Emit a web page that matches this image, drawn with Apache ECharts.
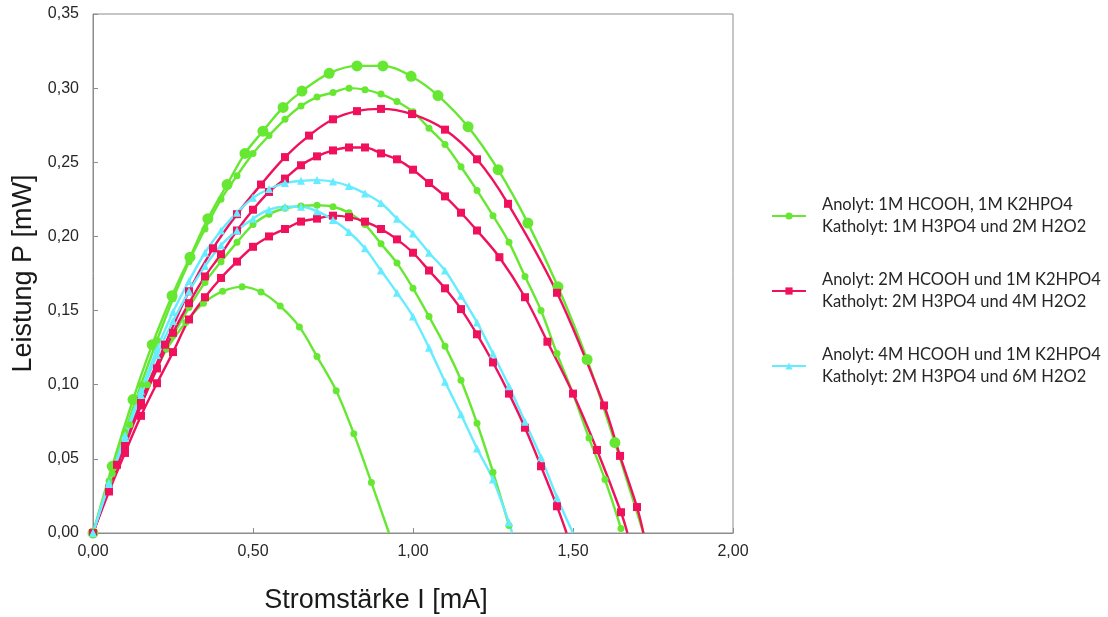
<!DOCTYPE html>
<html>
<head>
<meta charset="utf-8">
<script src="https://cdn.jsdelivr.net/npm/echarts@6/dist/echarts.min.js"></script>
<style>
  html, body { margin: 0; background: #fff; }
  #chart { width: 1108px; height: 617px; }
</style>
</head>
<body>
<div id="chart"></div>
<script>
// Stromstärke I [mA] und Leistung P [mW]
const I_g1 = [0, 0.06, 0.125, 0.185, 0.247, 0.303, 0.359, 0.419, 0.475, 0.531, 0.594, 0.653, 0.738, 0.825, 0.906, 0.994, 1.078, 1.172, 1.266, 1.359, 1.453, 1.544, 1.631, 1.72];
const P_g1 = [0, 0.045, 0.090, 0.127, 0.160, 0.186, 0.212, 0.235, 0.256, 0.271, 0.287, 0.298, 0.310, 0.315, 0.315, 0.308, 0.295, 0.274, 0.245, 0.209, 0.166, 0.117, 0.061, 0];

const I_g2 = [0, 0.05, 0.10, 0.15, 0.20, 0.25, 0.30, 0.35, 0.40, 0.45, 0.50, 0.55, 0.60, 0.65, 0.70, 0.75, 0.80, 0.85, 0.90, 0.95, 1.00, 1.05, 1.10, 1.15, 1.20, 1.25, 1.30, 1.35, 1.40, 1.45, 1.50, 1.55, 1.60, 1.65];
const P_g2 = [0, 0.035, 0.068, 0.100, 0.130, 0.158, 0.183, 0.205, 0.225, 0.241, 0.256, 0.268, 0.279, 0.288, 0.294, 0.297, 0.300, 0.299, 0.296, 0.291, 0.284, 0.273, 0.262, 0.247, 0.231, 0.214, 0.196, 0.173, 0.150, 0.121, 0.094, 0.064, 0.036, 0.003];

const I_g3 = [0, 0.05, 0.10, 0.15, 0.20, 0.25, 0.30, 0.35, 0.40, 0.45, 0.50, 0.55, 0.60, 0.65, 0.70, 0.75, 0.80, 0.85, 0.90, 0.95, 1.00, 1.05, 1.10, 1.15, 1.20, 1.25, 1.30];
const P_g3 = [0, 0.031, 0.060, 0.087, 0.111, 0.133, 0.152, 0.169, 0.183, 0.196, 0.208, 0.215, 0.219, 0.2205, 0.221, 0.220, 0.216, 0.208, 0.195, 0.182, 0.165, 0.146, 0.126, 0.103, 0.074, 0.041, 0.005];

const I_g4 = [0, 0.06, 0.115, 0.17, 0.23, 0.29, 0.345, 0.405, 0.466, 0.525, 0.585, 0.645, 0.70, 0.76, 0.815, 0.87, 0.925];
const P_g4 = [0, 0.040, 0.073, 0.100, 0.124, 0.142, 0.155, 0.163, 0.166, 0.1625, 0.153, 0.139, 0.119, 0.096, 0.067, 0.034, 0];

const I_p1 = [0, 0.075, 0.15, 0.225, 0.30, 0.375, 0.45, 0.525, 0.60, 0.675, 0.75, 0.825, 0.90, 0.997, 1.10, 1.20, 1.297, 1.45, 1.597, 1.647, 1.70, 1.72];
const P_p1 = [0, 0.046, 0.089, 0.127, 0.163, 0.192, 0.215, 0.235, 0.2535, 0.268, 0.279, 0.2845, 0.286, 0.2825, 0.272, 0.252, 0.222, 0.162, 0.086, 0.052, 0.0175, 0];

const I_p2 = [0, 0.05, 0.10, 0.15, 0.20, 0.25, 0.30, 0.35, 0.40, 0.45, 0.50, 0.55, 0.60, 0.65, 0.70, 0.75, 0.80, 0.85, 0.90, 0.95, 1.00, 1.05, 1.10, 1.15, 1.20, 1.27, 1.35, 1.42, 1.50, 1.575, 1.65, 1.67];
const P_p2 = [0, 0.030, 0.059, 0.086, 0.111, 0.135, 0.155, 0.173, 0.188, 0.204, 0.218, 0.230, 0.239, 0.248, 0.254, 0.258, 0.260, 0.260, 0.256, 0.252, 0.245, 0.236, 0.227, 0.216, 0.204, 0.186, 0.159, 0.129, 0.094, 0.056, 0.014, 0];

const I_p3 = [0, 0.05, 0.10, 0.15, 0.20, 0.25, 0.30, 0.35, 0.40, 0.45, 0.50, 0.55, 0.60, 0.65, 0.70, 0.75, 0.80, 0.85, 0.90, 0.95, 1.00, 1.05, 1.10, 1.15, 1.20, 1.25, 1.30, 1.35, 1.40, 1.45, 1.48];
const P_p3 = [0, 0.028, 0.054, 0.079, 0.101, 0.122, 0.144, 0.159, 0.172, 0.183, 0.193, 0.200, 0.205, 0.210, 0.212, 0.214, 0.213, 0.210, 0.205, 0.198, 0.189, 0.177, 0.165, 0.151, 0.134, 0.115, 0.094, 0.071, 0.045, 0.018, 0];

const I_c1 = [0, 0.05, 0.10, 0.15, 0.20, 0.25, 0.30, 0.35, 0.40, 0.45, 0.50, 0.55, 0.60, 0.65, 0.70, 0.75, 0.80, 0.85, 0.90, 0.95, 1.00, 1.05, 1.10, 1.15, 1.20, 1.25, 1.30, 1.35, 1.40, 1.45, 1.50];
const P_c1 = [0, 0.034, 0.066, 0.096, 0.124, 0.149, 0.170, 0.189, 0.204, 0.216, 0.226, 0.232, 0.236, 0.2375, 0.238, 0.237, 0.234, 0.229, 0.2225, 0.212, 0.202, 0.189, 0.177, 0.160, 0.142, 0.121, 0.099, 0.075, 0.051, 0.024, 0];

const I_c2 = [0, 0.05, 0.10, 0.15, 0.20, 0.25, 0.30, 0.35, 0.40, 0.45, 0.50, 0.55, 0.60, 0.65, 0.70, 0.75, 0.80, 0.85, 0.90, 0.95, 1.00, 1.05, 1.10, 1.15, 1.20, 1.25, 1.30, 1.31];
const P_c2 = [0, 0.033, 0.064, 0.093, 0.120, 0.143, 0.163, 0.180, 0.194, 0.204, 0.212, 0.218, 0.220, 0.220, 0.217, 0.211, 0.203, 0.192, 0.177, 0.162, 0.146, 0.125, 0.102, 0.080, 0.057, 0.036, 0.007, 0];

const legendNames = [
  'Anolyt: 1M HCOOH, 1M K2HPO4\nKatholyt: 1M H3PO4 und 2M H2O2',
  'Anolyt: 2M HCOOH und 1M K2HPO4\nKatholyt: 2M H3PO4 und 4M H2O2',
  'Anolyt: 4M HCOOH und 1M K2HPO4\nKatholyt: 2M H3PO4 und 6M H2O2'
];

const xTicks = [0, 0.5, 1.0, 1.5, 2.0];
const yTicks = [0, 0.05, 0.10, 0.15, 0.20, 0.25, 0.30, 0.35];

const GREEN = '#66E833';
const PINK = '#F0105C';
const CYAN = '#66ECFF';

// Reihenfolge: grün, pink, cyan (cyan liegt oben)
const curves = [
  { xs: I_g1, ys: P_g1, group: 0, color: GREEN, symbol: 'circle', size: 11, openEnd: true },
  { xs: I_g2, ys: P_g2, group: 0, color: GREEN, symbol: 'circle', size: 7 },
  { xs: I_g3, ys: P_g3, group: 0, color: GREEN, symbol: 'circle', size: 7 },
  { xs: I_g4, ys: P_g4, group: 0, color: GREEN, symbol: 'circle', size: 7, openEnd: true },
  { xs: I_p1, ys: P_p1, group: 1, color: PINK, symbol: 'rect', size: 8, openEnd: true },
  { xs: I_p2, ys: P_p2, group: 1, color: PINK, symbol: 'rect', size: 8, openEnd: true },
  { xs: I_p3, ys: P_p3, group: 1, color: PINK, symbol: 'rect', size: 8, openEnd: true },
  { xs: I_c1, ys: P_c1, group: 2, color: CYAN, symbol: 'triangle', size: 8, openEnd: true },
  { xs: I_c2, ys: P_c2, group: 2, color: CYAN, symbol: 'triangle', size: 8, openEnd: true }
];

const fmt = function (v) {
  return v.toFixed(2).replace('.', ',');
};

const series = curves.map(function (c) {
  const data = c.xs.map(function (x, i) {
    if (c.openEnd && i === c.xs.length - 1) {
      return { value: [x, c.ys[i]], symbol: 'none' };
    }
    return [x, c.ys[i]];
  });
  return {
    name: legendNames[c.group],
    type: 'line',
    smooth: 0.35,
    data: data,
    symbol: c.symbol,
    symbolSize: c.size,
    showAllSymbol: true,
    clip: false,
    lineStyle: { color: c.color, width: 2.4 },
    itemStyle: { color: c.color },
    emphasis: { disabled: true },
    animation: false
  };
});

const chart = echarts.init(document.getElementById('chart'));
chart.setOption({
  backgroundColor: '#fff',
  animation: false,
  grid: {
    left: 93,
    top: 14,
    right: 375,
    bottom: 84,
    outerBoundsMode: 'none',
    show: true,
    borderColor: '#8c8c8c',
    borderWidth: 1
  },
  legend: {
    data: legendNames,
    orient: 'vertical',
    left: 766,
    top: 189,
    itemGap: 31,
    itemWidth: 34,
    itemHeight: 9,
    selectedMode: false,
    textStyle: {
      fontFamily: 'Lato',
      fontSize: 16.5,
      lineHeight: 22,
      color: '#262626',
      padding: [0, 0, 0, 11]
    }
  },
  xAxis: {
    type: 'value',
    min: xTicks[0],
    max: xTicks[xTicks.length - 1],
    interval: 0.5,
    name: 'Stromstärke I [mA]',
    nameLocation: 'middle',
    nameGap: 54,
    nameTextStyle: { fontFamily: 'Liberation Sans', fontSize: 27, color: '#1a1a1a', padding: [0, 74, 0, 0] },
    axisLine: { lineStyle: { color: '#8c8c8c', width: 1 } },
    axisTick: { show: true, inside: true, length: 5, lineStyle: { color: '#8c8c8c' } },
    axisLabel: { fontFamily: 'Liberation Sans', fontSize: 16, color: '#262626', margin: 11, formatter: fmt },
    splitLine: { show: false }
  },
  yAxis: {
    type: 'value',
    min: yTicks[0],
    max: yTicks[yTicks.length - 1],
    interval: 0.05,
    name: 'Leistung P [mW]',
    nameLocation: 'middle',
    nameGap: 56,
    nameTextStyle: { fontFamily: 'Liberation Sans', fontSize: 27, color: '#1a1a1a' },
    axisLine: { show: true, lineStyle: { color: '#8c8c8c', width: 1 } },
    axisTick: { show: true, inside: true, length: 5, lineStyle: { color: '#8c8c8c' } },
    axisLabel: { fontFamily: 'Liberation Sans', fontSize: 16, color: '#262626', margin: 14, formatter: fmt },
    splitLine: { show: false }
  },
  series: series
});
</script>
</body>
</html>
